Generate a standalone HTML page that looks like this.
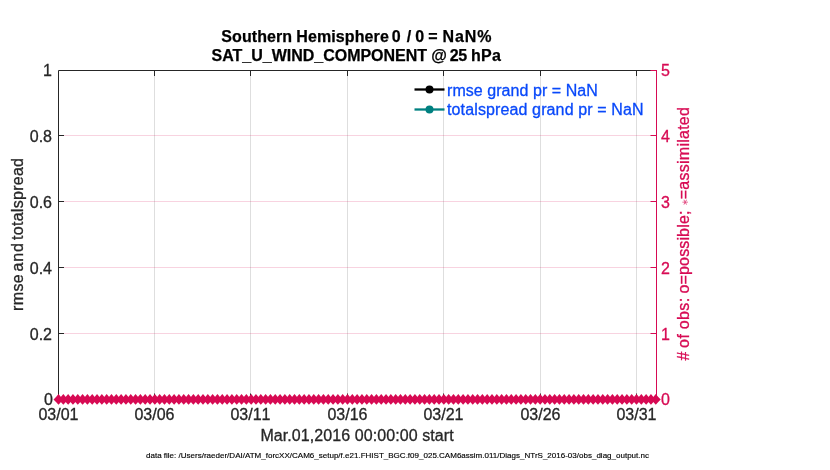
<!DOCTYPE html>
<html><head><meta charset="utf-8"><title>plot</title>
<style>
html,body{margin:0;padding:0;background:#fff;}
svg{display:block;}
text{font-family:"Liberation Sans",sans-serif;}
.n{stroke-width:0.3px;paint-order:stroke;}
</style></head><body>
<svg width="830" height="470" viewBox="0 0 830 470">
<rect width="830" height="470" fill="#fff"/>
<line x1="154.50" y1="70.5" x2="154.50" y2="399.5" stroke="#000" stroke-opacity="0.13" stroke-width="1"/>
<line x1="250.50" y1="70.5" x2="250.50" y2="399.5" stroke="#000" stroke-opacity="0.13" stroke-width="1"/>
<line x1="347.50" y1="70.5" x2="347.50" y2="399.5" stroke="#000" stroke-opacity="0.13" stroke-width="1"/>
<line x1="443.50" y1="70.5" x2="443.50" y2="399.5" stroke="#000" stroke-opacity="0.13" stroke-width="1"/>
<line x1="540.50" y1="70.5" x2="540.50" y2="399.5" stroke="#000" stroke-opacity="0.13" stroke-width="1"/>
<line x1="636.50" y1="70.5" x2="636.50" y2="399.5" stroke="#000" stroke-opacity="0.13" stroke-width="1"/>
<line x1="58.5" y1="135.5" x2="656.5" y2="135.5" stroke="#d70a53" stroke-opacity="0.18" stroke-width="1"/>
<line x1="58.5" y1="201.5" x2="656.5" y2="201.5" stroke="#d70a53" stroke-opacity="0.18" stroke-width="1"/>
<line x1="58.5" y1="267.5" x2="656.5" y2="267.5" stroke="#d70a53" stroke-opacity="0.18" stroke-width="1"/>
<line x1="58.5" y1="333.5" x2="656.5" y2="333.5" stroke="#d70a53" stroke-opacity="0.18" stroke-width="1"/>
<path d="M58.5 399.5 V70.5 H656.5" fill="none" stroke="#262626" stroke-width="1"/>
<line x1="58.5" y1="399.5" x2="656.5" y2="399.5" stroke="#262626" stroke-width="1"/>
<line x1="58.5" y1="135.5" x2="64.0" y2="135.5" stroke="#262626" stroke-width="1"/>
<line x1="58.5" y1="201.5" x2="64.0" y2="201.5" stroke="#262626" stroke-width="1"/>
<line x1="58.5" y1="267.5" x2="64.0" y2="267.5" stroke="#262626" stroke-width="1"/>
<line x1="58.5" y1="333.5" x2="64.0" y2="333.5" stroke="#262626" stroke-width="1"/>
<line x1="154.50" y1="399.5" x2="154.50" y2="393.5" stroke="#262626" stroke-width="1"/>
<line x1="154.50" y1="70.5" x2="154.50" y2="76.0" stroke="#262626" stroke-width="1"/>
<line x1="250.50" y1="399.5" x2="250.50" y2="393.5" stroke="#262626" stroke-width="1"/>
<line x1="250.50" y1="70.5" x2="250.50" y2="76.0" stroke="#262626" stroke-width="1"/>
<line x1="347.50" y1="399.5" x2="347.50" y2="393.5" stroke="#262626" stroke-width="1"/>
<line x1="347.50" y1="70.5" x2="347.50" y2="76.0" stroke="#262626" stroke-width="1"/>
<line x1="443.50" y1="399.5" x2="443.50" y2="393.5" stroke="#262626" stroke-width="1"/>
<line x1="443.50" y1="70.5" x2="443.50" y2="76.0" stroke="#262626" stroke-width="1"/>
<line x1="540.50" y1="399.5" x2="540.50" y2="393.5" stroke="#262626" stroke-width="1"/>
<line x1="540.50" y1="70.5" x2="540.50" y2="76.0" stroke="#262626" stroke-width="1"/>
<line x1="636.50" y1="399.5" x2="636.50" y2="393.5" stroke="#262626" stroke-width="1"/>
<line x1="636.50" y1="70.5" x2="636.50" y2="76.0" stroke="#262626" stroke-width="1"/>
<line x1="656.5" y1="70.0" x2="656.5" y2="400.0" stroke="#d70a53" stroke-width="1"/>
<line x1="656.5" y1="70.5" x2="650.5" y2="70.5" stroke="#d70a53" stroke-width="1"/>
<line x1="656.5" y1="135.5" x2="650.5" y2="135.5" stroke="#d70a53" stroke-width="1"/>
<line x1="656.5" y1="201.5" x2="650.5" y2="201.5" stroke="#d70a53" stroke-width="1"/>
<line x1="656.5" y1="267.5" x2="650.5" y2="267.5" stroke="#d70a53" stroke-width="1"/>
<line x1="656.5" y1="333.5" x2="650.5" y2="333.5" stroke="#d70a53" stroke-width="1"/>
<line x1="656.5" y1="399.5" x2="650.5" y2="399.5" stroke="#d70a53" stroke-width="1"/>
<g fill="#d70a53" stroke="none">
<polygon points="53.50,399.40 56.00,396.90 58.50,394.10 61.00,396.90 63.50,399.40 61.00,401.90 58.50,404.70 56.00,401.90"/>
<polygon points="58.32,399.40 60.82,396.90 63.32,394.10 65.82,396.90 68.32,399.40 65.82,401.90 63.32,404.70 60.82,401.90"/>
<polygon points="63.13,399.40 65.63,396.90 68.13,394.10 70.63,396.90 73.13,399.40 70.63,401.90 68.13,404.70 65.63,401.90"/>
<polygon points="67.95,399.40 70.45,396.90 72.95,394.10 75.45,396.90 77.95,399.40 75.45,401.90 72.95,404.70 70.45,401.90"/>
<polygon points="72.77,399.40 75.27,396.90 77.77,394.10 80.27,396.90 82.77,399.40 80.27,401.90 77.77,404.70 75.27,401.90"/>
<polygon points="77.58,399.40 80.08,396.90 82.58,394.10 85.08,396.90 87.58,399.40 85.08,401.90 82.58,404.70 80.08,401.90"/>
<polygon points="82.40,399.40 84.90,396.90 87.40,394.10 89.90,396.90 92.40,399.40 89.90,401.90 87.40,404.70 84.90,401.90"/>
<polygon points="87.22,399.40 89.72,396.90 92.22,394.10 94.72,396.90 97.22,399.40 94.72,401.90 92.22,404.70 89.72,401.90"/>
<polygon points="92.03,399.40 94.53,396.90 97.03,394.10 99.53,396.90 102.03,399.40 99.53,401.90 97.03,404.70 94.53,401.90"/>
<polygon points="96.85,399.40 99.35,396.90 101.85,394.10 104.35,396.90 106.85,399.40 104.35,401.90 101.85,404.70 99.35,401.90"/>
<polygon points="101.67,399.40 104.17,396.90 106.67,394.10 109.17,396.90 111.67,399.40 109.17,401.90 106.67,404.70 104.17,401.90"/>
<polygon points="106.48,399.40 108.98,396.90 111.48,394.10 113.98,396.90 116.48,399.40 113.98,401.90 111.48,404.70 108.98,401.90"/>
<polygon points="111.30,399.40 113.80,396.90 116.30,394.10 118.80,396.90 121.30,399.40 118.80,401.90 116.30,404.70 113.80,401.90"/>
<polygon points="116.12,399.40 118.62,396.90 121.12,394.10 123.62,396.90 126.12,399.40 123.62,401.90 121.12,404.70 118.62,401.90"/>
<polygon points="120.93,399.40 123.43,396.90 125.93,394.10 128.43,396.90 130.93,399.40 128.43,401.90 125.93,404.70 123.43,401.90"/>
<polygon points="125.75,399.40 128.25,396.90 130.75,394.10 133.25,396.90 135.75,399.40 133.25,401.90 130.75,404.70 128.25,401.90"/>
<polygon points="130.57,399.40 133.07,396.90 135.57,394.10 138.07,396.90 140.57,399.40 138.07,401.90 135.57,404.70 133.07,401.90"/>
<polygon points="135.38,399.40 137.88,396.90 140.38,394.10 142.88,396.90 145.38,399.40 142.88,401.90 140.38,404.70 137.88,401.90"/>
<polygon points="140.20,399.40 142.70,396.90 145.20,394.10 147.70,396.90 150.20,399.40 147.70,401.90 145.20,404.70 142.70,401.90"/>
<polygon points="145.02,399.40 147.52,396.90 150.02,394.10 152.52,396.90 155.02,399.40 152.52,401.90 150.02,404.70 147.52,401.90"/>
<polygon points="149.83,399.40 152.33,396.90 154.83,394.10 157.33,396.90 159.83,399.40 157.33,401.90 154.83,404.70 152.33,401.90"/>
<polygon points="154.65,399.40 157.15,396.90 159.65,394.10 162.15,396.90 164.65,399.40 162.15,401.90 159.65,404.70 157.15,401.90"/>
<polygon points="159.47,399.40 161.97,396.90 164.47,394.10 166.97,396.90 169.47,399.40 166.97,401.90 164.47,404.70 161.97,401.90"/>
<polygon points="164.28,399.40 166.78,396.90 169.28,394.10 171.78,396.90 174.28,399.40 171.78,401.90 169.28,404.70 166.78,401.90"/>
<polygon points="169.10,399.40 171.60,396.90 174.10,394.10 176.60,396.90 179.10,399.40 176.60,401.90 174.10,404.70 171.60,401.90"/>
<polygon points="173.92,399.40 176.42,396.90 178.92,394.10 181.42,396.90 183.92,399.40 181.42,401.90 178.92,404.70 176.42,401.90"/>
<polygon points="178.73,399.40 181.23,396.90 183.73,394.10 186.23,396.90 188.73,399.40 186.23,401.90 183.73,404.70 181.23,401.90"/>
<polygon points="183.55,399.40 186.05,396.90 188.55,394.10 191.05,396.90 193.55,399.40 191.05,401.90 188.55,404.70 186.05,401.90"/>
<polygon points="188.37,399.40 190.87,396.90 193.37,394.10 195.87,396.90 198.37,399.40 195.87,401.90 193.37,404.70 190.87,401.90"/>
<polygon points="193.18,399.40 195.68,396.90 198.18,394.10 200.68,396.90 203.18,399.40 200.68,401.90 198.18,404.70 195.68,401.90"/>
<polygon points="198.00,399.40 200.50,396.90 203.00,394.10 205.50,396.90 208.00,399.40 205.50,401.90 203.00,404.70 200.50,401.90"/>
<polygon points="202.82,399.40 205.32,396.90 207.82,394.10 210.32,396.90 212.82,399.40 210.32,401.90 207.82,404.70 205.32,401.90"/>
<polygon points="207.63,399.40 210.13,396.90 212.63,394.10 215.13,396.90 217.63,399.40 215.13,401.90 212.63,404.70 210.13,401.90"/>
<polygon points="212.45,399.40 214.95,396.90 217.45,394.10 219.95,396.90 222.45,399.40 219.95,401.90 217.45,404.70 214.95,401.90"/>
<polygon points="217.27,399.40 219.77,396.90 222.27,394.10 224.77,396.90 227.27,399.40 224.77,401.90 222.27,404.70 219.77,401.90"/>
<polygon points="222.08,399.40 224.58,396.90 227.08,394.10 229.58,396.90 232.08,399.40 229.58,401.90 227.08,404.70 224.58,401.90"/>
<polygon points="226.90,399.40 229.40,396.90 231.90,394.10 234.40,396.90 236.90,399.40 234.40,401.90 231.90,404.70 229.40,401.90"/>
<polygon points="231.72,399.40 234.22,396.90 236.72,394.10 239.22,396.90 241.72,399.40 239.22,401.90 236.72,404.70 234.22,401.90"/>
<polygon points="236.53,399.40 239.03,396.90 241.53,394.10 244.03,396.90 246.53,399.40 244.03,401.90 241.53,404.70 239.03,401.90"/>
<polygon points="241.35,399.40 243.85,396.90 246.35,394.10 248.85,396.90 251.35,399.40 248.85,401.90 246.35,404.70 243.85,401.90"/>
<polygon points="246.17,399.40 248.67,396.90 251.17,394.10 253.67,396.90 256.17,399.40 253.67,401.90 251.17,404.70 248.67,401.90"/>
<polygon points="250.98,399.40 253.48,396.90 255.98,394.10 258.48,396.90 260.98,399.40 258.48,401.90 255.98,404.70 253.48,401.90"/>
<polygon points="255.80,399.40 258.30,396.90 260.80,394.10 263.30,396.90 265.80,399.40 263.30,401.90 260.80,404.70 258.30,401.90"/>
<polygon points="260.62,399.40 263.12,396.90 265.62,394.10 268.12,396.90 270.62,399.40 268.12,401.90 265.62,404.70 263.12,401.90"/>
<polygon points="265.43,399.40 267.93,396.90 270.43,394.10 272.93,396.90 275.43,399.40 272.93,401.90 270.43,404.70 267.93,401.90"/>
<polygon points="270.25,399.40 272.75,396.90 275.25,394.10 277.75,396.90 280.25,399.40 277.75,401.90 275.25,404.70 272.75,401.90"/>
<polygon points="275.07,399.40 277.57,396.90 280.07,394.10 282.57,396.90 285.07,399.40 282.57,401.90 280.07,404.70 277.57,401.90"/>
<polygon points="279.88,399.40 282.38,396.90 284.88,394.10 287.38,396.90 289.88,399.40 287.38,401.90 284.88,404.70 282.38,401.90"/>
<polygon points="284.70,399.40 287.20,396.90 289.70,394.10 292.20,396.90 294.70,399.40 292.20,401.90 289.70,404.70 287.20,401.90"/>
<polygon points="289.52,399.40 292.02,396.90 294.52,394.10 297.02,396.90 299.52,399.40 297.02,401.90 294.52,404.70 292.02,401.90"/>
<polygon points="294.33,399.40 296.83,396.90 299.33,394.10 301.83,396.90 304.33,399.40 301.83,401.90 299.33,404.70 296.83,401.90"/>
<polygon points="299.15,399.40 301.65,396.90 304.15,394.10 306.65,396.90 309.15,399.40 306.65,401.90 304.15,404.70 301.65,401.90"/>
<polygon points="303.97,399.40 306.47,396.90 308.97,394.10 311.47,396.90 313.97,399.40 311.47,401.90 308.97,404.70 306.47,401.90"/>
<polygon points="308.78,399.40 311.28,396.90 313.78,394.10 316.28,396.90 318.78,399.40 316.28,401.90 313.78,404.70 311.28,401.90"/>
<polygon points="313.60,399.40 316.10,396.90 318.60,394.10 321.10,396.90 323.60,399.40 321.10,401.90 318.60,404.70 316.10,401.90"/>
<polygon points="318.42,399.40 320.92,396.90 323.42,394.10 325.92,396.90 328.42,399.40 325.92,401.90 323.42,404.70 320.92,401.90"/>
<polygon points="323.23,399.40 325.73,396.90 328.23,394.10 330.73,396.90 333.23,399.40 330.73,401.90 328.23,404.70 325.73,401.90"/>
<polygon points="328.05,399.40 330.55,396.90 333.05,394.10 335.55,396.90 338.05,399.40 335.55,401.90 333.05,404.70 330.55,401.90"/>
<polygon points="332.87,399.40 335.37,396.90 337.87,394.10 340.37,396.90 342.87,399.40 340.37,401.90 337.87,404.70 335.37,401.90"/>
<polygon points="337.68,399.40 340.18,396.90 342.68,394.10 345.18,396.90 347.68,399.40 345.18,401.90 342.68,404.70 340.18,401.90"/>
<polygon points="342.50,399.40 345.00,396.90 347.50,394.10 350.00,396.90 352.50,399.40 350.00,401.90 347.50,404.70 345.00,401.90"/>
<polygon points="347.32,399.40 349.82,396.90 352.32,394.10 354.82,396.90 357.32,399.40 354.82,401.90 352.32,404.70 349.82,401.90"/>
<polygon points="352.13,399.40 354.63,396.90 357.13,394.10 359.63,396.90 362.13,399.40 359.63,401.90 357.13,404.70 354.63,401.90"/>
<polygon points="356.95,399.40 359.45,396.90 361.95,394.10 364.45,396.90 366.95,399.40 364.45,401.90 361.95,404.70 359.45,401.90"/>
<polygon points="361.77,399.40 364.27,396.90 366.77,394.10 369.27,396.90 371.77,399.40 369.27,401.90 366.77,404.70 364.27,401.90"/>
<polygon points="366.58,399.40 369.08,396.90 371.58,394.10 374.08,396.90 376.58,399.40 374.08,401.90 371.58,404.70 369.08,401.90"/>
<polygon points="371.40,399.40 373.90,396.90 376.40,394.10 378.90,396.90 381.40,399.40 378.90,401.90 376.40,404.70 373.90,401.90"/>
<polygon points="376.22,399.40 378.72,396.90 381.22,394.10 383.72,396.90 386.22,399.40 383.72,401.90 381.22,404.70 378.72,401.90"/>
<polygon points="381.03,399.40 383.53,396.90 386.03,394.10 388.53,396.90 391.03,399.40 388.53,401.90 386.03,404.70 383.53,401.90"/>
<polygon points="385.85,399.40 388.35,396.90 390.85,394.10 393.35,396.90 395.85,399.40 393.35,401.90 390.85,404.70 388.35,401.90"/>
<polygon points="390.67,399.40 393.17,396.90 395.67,394.10 398.17,396.90 400.67,399.40 398.17,401.90 395.67,404.70 393.17,401.90"/>
<polygon points="395.48,399.40 397.98,396.90 400.48,394.10 402.98,396.90 405.48,399.40 402.98,401.90 400.48,404.70 397.98,401.90"/>
<polygon points="400.30,399.40 402.80,396.90 405.30,394.10 407.80,396.90 410.30,399.40 407.80,401.90 405.30,404.70 402.80,401.90"/>
<polygon points="405.12,399.40 407.62,396.90 410.12,394.10 412.62,396.90 415.12,399.40 412.62,401.90 410.12,404.70 407.62,401.90"/>
<polygon points="409.93,399.40 412.43,396.90 414.93,394.10 417.43,396.90 419.93,399.40 417.43,401.90 414.93,404.70 412.43,401.90"/>
<polygon points="414.75,399.40 417.25,396.90 419.75,394.10 422.25,396.90 424.75,399.40 422.25,401.90 419.75,404.70 417.25,401.90"/>
<polygon points="419.57,399.40 422.07,396.90 424.57,394.10 427.07,396.90 429.57,399.40 427.07,401.90 424.57,404.70 422.07,401.90"/>
<polygon points="424.38,399.40 426.88,396.90 429.38,394.10 431.88,396.90 434.38,399.40 431.88,401.90 429.38,404.70 426.88,401.90"/>
<polygon points="429.20,399.40 431.70,396.90 434.20,394.10 436.70,396.90 439.20,399.40 436.70,401.90 434.20,404.70 431.70,401.90"/>
<polygon points="434.02,399.40 436.52,396.90 439.02,394.10 441.52,396.90 444.02,399.40 441.52,401.90 439.02,404.70 436.52,401.90"/>
<polygon points="438.83,399.40 441.33,396.90 443.83,394.10 446.33,396.90 448.83,399.40 446.33,401.90 443.83,404.70 441.33,401.90"/>
<polygon points="443.65,399.40 446.15,396.90 448.65,394.10 451.15,396.90 453.65,399.40 451.15,401.90 448.65,404.70 446.15,401.90"/>
<polygon points="448.47,399.40 450.97,396.90 453.47,394.10 455.97,396.90 458.47,399.40 455.97,401.90 453.47,404.70 450.97,401.90"/>
<polygon points="453.28,399.40 455.78,396.90 458.28,394.10 460.78,396.90 463.28,399.40 460.78,401.90 458.28,404.70 455.78,401.90"/>
<polygon points="458.10,399.40 460.60,396.90 463.10,394.10 465.60,396.90 468.10,399.40 465.60,401.90 463.10,404.70 460.60,401.90"/>
<polygon points="462.92,399.40 465.42,396.90 467.92,394.10 470.42,396.90 472.92,399.40 470.42,401.90 467.92,404.70 465.42,401.90"/>
<polygon points="467.73,399.40 470.23,396.90 472.73,394.10 475.23,396.90 477.73,399.40 475.23,401.90 472.73,404.70 470.23,401.90"/>
<polygon points="472.55,399.40 475.05,396.90 477.55,394.10 480.05,396.90 482.55,399.40 480.05,401.90 477.55,404.70 475.05,401.90"/>
<polygon points="477.37,399.40 479.87,396.90 482.37,394.10 484.87,396.90 487.37,399.40 484.87,401.90 482.37,404.70 479.87,401.90"/>
<polygon points="482.18,399.40 484.68,396.90 487.18,394.10 489.68,396.90 492.18,399.40 489.68,401.90 487.18,404.70 484.68,401.90"/>
<polygon points="487.00,399.40 489.50,396.90 492.00,394.10 494.50,396.90 497.00,399.40 494.50,401.90 492.00,404.70 489.50,401.90"/>
<polygon points="491.82,399.40 494.32,396.90 496.82,394.10 499.32,396.90 501.82,399.40 499.32,401.90 496.82,404.70 494.32,401.90"/>
<polygon points="496.63,399.40 499.13,396.90 501.63,394.10 504.13,396.90 506.63,399.40 504.13,401.90 501.63,404.70 499.13,401.90"/>
<polygon points="501.45,399.40 503.95,396.90 506.45,394.10 508.95,396.90 511.45,399.40 508.95,401.90 506.45,404.70 503.95,401.90"/>
<polygon points="506.27,399.40 508.77,396.90 511.27,394.10 513.77,396.90 516.27,399.40 513.77,401.90 511.27,404.70 508.77,401.90"/>
<polygon points="511.08,399.40 513.58,396.90 516.08,394.10 518.58,396.90 521.08,399.40 518.58,401.90 516.08,404.70 513.58,401.90"/>
<polygon points="515.90,399.40 518.40,396.90 520.90,394.10 523.40,396.90 525.90,399.40 523.40,401.90 520.90,404.70 518.40,401.90"/>
<polygon points="520.72,399.40 523.22,396.90 525.72,394.10 528.22,396.90 530.72,399.40 528.22,401.90 525.72,404.70 523.22,401.90"/>
<polygon points="525.53,399.40 528.03,396.90 530.53,394.10 533.03,396.90 535.53,399.40 533.03,401.90 530.53,404.70 528.03,401.90"/>
<polygon points="530.35,399.40 532.85,396.90 535.35,394.10 537.85,396.90 540.35,399.40 537.85,401.90 535.35,404.70 532.85,401.90"/>
<polygon points="535.17,399.40 537.67,396.90 540.17,394.10 542.67,396.90 545.17,399.40 542.67,401.90 540.17,404.70 537.67,401.90"/>
<polygon points="539.98,399.40 542.48,396.90 544.98,394.10 547.48,396.90 549.98,399.40 547.48,401.90 544.98,404.70 542.48,401.90"/>
<polygon points="544.80,399.40 547.30,396.90 549.80,394.10 552.30,396.90 554.80,399.40 552.30,401.90 549.80,404.70 547.30,401.90"/>
<polygon points="549.62,399.40 552.12,396.90 554.62,394.10 557.12,396.90 559.62,399.40 557.12,401.90 554.62,404.70 552.12,401.90"/>
<polygon points="554.43,399.40 556.93,396.90 559.43,394.10 561.93,396.90 564.43,399.40 561.93,401.90 559.43,404.70 556.93,401.90"/>
<polygon points="559.25,399.40 561.75,396.90 564.25,394.10 566.75,396.90 569.25,399.40 566.75,401.90 564.25,404.70 561.75,401.90"/>
<polygon points="564.07,399.40 566.57,396.90 569.07,394.10 571.57,396.90 574.07,399.40 571.57,401.90 569.07,404.70 566.57,401.90"/>
<polygon points="568.88,399.40 571.38,396.90 573.88,394.10 576.38,396.90 578.88,399.40 576.38,401.90 573.88,404.70 571.38,401.90"/>
<polygon points="573.70,399.40 576.20,396.90 578.70,394.10 581.20,396.90 583.70,399.40 581.20,401.90 578.70,404.70 576.20,401.90"/>
<polygon points="578.52,399.40 581.02,396.90 583.52,394.10 586.02,396.90 588.52,399.40 586.02,401.90 583.52,404.70 581.02,401.90"/>
<polygon points="583.33,399.40 585.83,396.90 588.33,394.10 590.83,396.90 593.33,399.40 590.83,401.90 588.33,404.70 585.83,401.90"/>
<polygon points="588.15,399.40 590.65,396.90 593.15,394.10 595.65,396.90 598.15,399.40 595.65,401.90 593.15,404.70 590.65,401.90"/>
<polygon points="592.97,399.40 595.47,396.90 597.97,394.10 600.47,396.90 602.97,399.40 600.47,401.90 597.97,404.70 595.47,401.90"/>
<polygon points="597.78,399.40 600.28,396.90 602.78,394.10 605.28,396.90 607.78,399.40 605.28,401.90 602.78,404.70 600.28,401.90"/>
<polygon points="602.60,399.40 605.10,396.90 607.60,394.10 610.10,396.90 612.60,399.40 610.10,401.90 607.60,404.70 605.10,401.90"/>
<polygon points="607.42,399.40 609.92,396.90 612.42,394.10 614.92,396.90 617.42,399.40 614.92,401.90 612.42,404.70 609.92,401.90"/>
<polygon points="612.23,399.40 614.73,396.90 617.23,394.10 619.73,396.90 622.23,399.40 619.73,401.90 617.23,404.70 614.73,401.90"/>
<polygon points="617.05,399.40 619.55,396.90 622.05,394.10 624.55,396.90 627.05,399.40 624.55,401.90 622.05,404.70 619.55,401.90"/>
<polygon points="621.87,399.40 624.37,396.90 626.87,394.10 629.37,396.90 631.87,399.40 629.37,401.90 626.87,404.70 624.37,401.90"/>
<polygon points="626.68,399.40 629.18,396.90 631.68,394.10 634.18,396.90 636.68,399.40 634.18,401.90 631.68,404.70 629.18,401.90"/>
<polygon points="631.50,399.40 634.00,396.90 636.50,394.10 639.00,396.90 641.50,399.40 639.00,401.90 636.50,404.70 634.00,401.90"/>
<polygon points="636.32,399.40 638.82,396.90 641.32,394.10 643.82,396.90 646.32,399.40 643.82,401.90 641.32,404.70 638.82,401.90"/>
<polygon points="641.13,399.40 643.63,396.90 646.13,394.10 648.63,396.90 651.13,399.40 648.63,401.90 646.13,404.70 643.63,401.90"/>
<polygon points="645.95,399.40 648.45,396.90 650.95,394.10 653.45,396.90 655.95,399.40 653.45,401.90 650.95,404.70 648.45,401.90"/>
<polygon points="650.77,399.40 653.27,396.90 655.77,394.10 658.27,396.90 660.77,399.40 658.27,401.90 655.77,404.70 653.27,401.90"/>
</g>
<text x="52" y="75.9" font-size="16" text-anchor="end" fill="#262626" stroke="#262626" class="n">1</text>
<text x="52" y="141.8" font-size="16" text-anchor="end" fill="#262626" stroke="#262626" class="n">0.8</text>
<text x="52" y="207.7" font-size="16" text-anchor="end" fill="#262626" stroke="#262626" class="n">0.6</text>
<text x="52" y="273.6" font-size="16" text-anchor="end" fill="#262626" stroke="#262626" class="n">0.4</text>
<text x="52" y="339.5" font-size="16" text-anchor="end" fill="#262626" stroke="#262626" class="n">0.2</text>
<text x="53" y="405.4" font-size="16" text-anchor="end" fill="#262626" stroke="#262626" class="n">0</text>
<text x="661" y="75.9" font-size="16" fill="#d70a53" stroke="#d70a53" class="n">5</text>
<text x="661" y="141.8" font-size="16" fill="#d70a53" stroke="#d70a53" class="n">4</text>
<text x="661" y="207.7" font-size="16" fill="#d70a53" stroke="#d70a53" class="n">3</text>
<text x="661" y="273.6" font-size="16" fill="#d70a53" stroke="#d70a53" class="n">2</text>
<text x="661" y="339.5" font-size="16" fill="#d70a53" stroke="#d70a53" class="n">1</text>
<text x="661" y="405.4" font-size="16" fill="#d70a53" stroke="#d70a53" class="n">0</text>
<text x="58.50" y="420" font-size="16" style="font-kerning:none" text-anchor="middle" fill="#262626" stroke="#262626" class="n">03/01</text>
<text x="154.50" y="420" font-size="16" style="font-kerning:none" text-anchor="middle" fill="#262626" stroke="#262626" class="n">03/06</text>
<text x="250.50" y="420" font-size="16" style="font-kerning:none" text-anchor="middle" fill="#262626" stroke="#262626" class="n">03/11</text>
<text x="347.50" y="420" font-size="16" style="font-kerning:none" text-anchor="middle" fill="#262626" stroke="#262626" class="n">03/16</text>
<text x="443.50" y="420" font-size="16" style="font-kerning:none" text-anchor="middle" fill="#262626" stroke="#262626" class="n">03/21</text>
<text x="540.50" y="420" font-size="16" style="font-kerning:none" text-anchor="middle" fill="#262626" stroke="#262626" class="n">03/26</text>
<text x="636.50" y="420" font-size="16" style="font-kerning:none" text-anchor="middle" fill="#262626" stroke="#262626" class="n">03/31</text>
<text y="41.5" font-size="16" font-weight="bold" fill="#000" stroke="#000" stroke-width="0.25"><tspan x="221.36" textLength="70.65" lengthAdjust="spacing">Southern</tspan> <tspan x="296.25" textLength="92.55" lengthAdjust="spacing">Hemisphere</tspan> <tspan x="391.78">0</tspan> <tspan x="406.64">/</tspan> <tspan x="415.3">0</tspan> <tspan x="428.2">=</tspan> <tspan x="442.45" textLength="49.11" lengthAdjust="spacing">NaN%</tspan></text>
<text y="61" font-size="16" font-weight="bold" fill="#000" stroke="#000" stroke-width="0.25"><tspan x="211.54" textLength="215.54" lengthAdjust="spacing">SAT_U_WIND_COMPONENT</tspan> <tspan x="431.33">@</tspan> <tspan x="449.85" textLength="17.41" lengthAdjust="spacing">25</tspan> <tspan x="470.94" textLength="29.99" lengthAdjust="spacing">hPa</tspan></text>
<text x="357" y="441" font-size="16" text-anchor="middle" fill="#262626" stroke="#262626" class="n" textLength="193.2" lengthAdjust="spacing">Mar.01,2016 00:00:00 start</text>
<text x="146" y="458" font-size="8" fill="#000" stroke="#000" stroke-width="0.15" textLength="503" lengthAdjust="spacingAndGlyphs">data file: /Users/raeder/DAI/ATM_forcXX/CAM6_setup/f.e21.FHIST_BGC.f09_025.CAM6assim.011/Diags_NTrS_2016-03/obs_diag_output.nc</text>
<text transform="translate(23.3 310) rotate(-90)" font-size="16" fill="#262626" stroke="#262626" class="n"><tspan x="-1.0" textLength="36.77" lengthAdjust="spacing">rmse</tspan> <tspan x="38.56" textLength="28.41" lengthAdjust="spacing">and</tspan> <tspan x="70.09" textLength="81.93" lengthAdjust="spacing">totalspread</tspan></text>
<text transform="translate(689.2 360.5) rotate(-90)" font-size="16" fill="#d70a53" stroke="#d70a53" class="n"><tspan x="-0.07">#</tspan> <tspan x="12.64" textLength="13.88" lengthAdjust="spacing">of</tspan> <tspan x="31.16" textLength="31.47" lengthAdjust="spacing">obs:</tspan> <tspan x="67.0" textLength="82.9" lengthAdjust="spacing">o=possible;</tspan> <tspan x="154.7"><tspan font-size="9" fill-opacity="0.75" stroke="none" dy="-1.2">&#8727;</tspan></tspan> <tspan x="161.29" textLength="92.15" lengthAdjust="spacing"><tspan dy="1.2">=assimilated</tspan></tspan></text>
<line x1="414.5" y1="89.5" x2="444.5" y2="89.5" stroke="#000" stroke-width="2.3"/><circle cx="429.5" cy="89.5" r="4" fill="#000"/>
<line x1="414.5" y1="109.5" x2="444.5" y2="109.5" stroke="#008080" stroke-width="2.3"/><circle cx="429.5" cy="109.5" r="4" fill="#008080"/>
<text x="447" y="95.5" font-size="16" fill="#0848fa" stroke="#0848fa" class="n" textLength="150.8" lengthAdjust="spacing">rmse grand pr = NaN</text>
<text x="447" y="114.5" font-size="16" fill="#0848fa" stroke="#0848fa" class="n" textLength="196.6" lengthAdjust="spacing">totalspread grand pr = NaN</text>
</svg></body></html>
